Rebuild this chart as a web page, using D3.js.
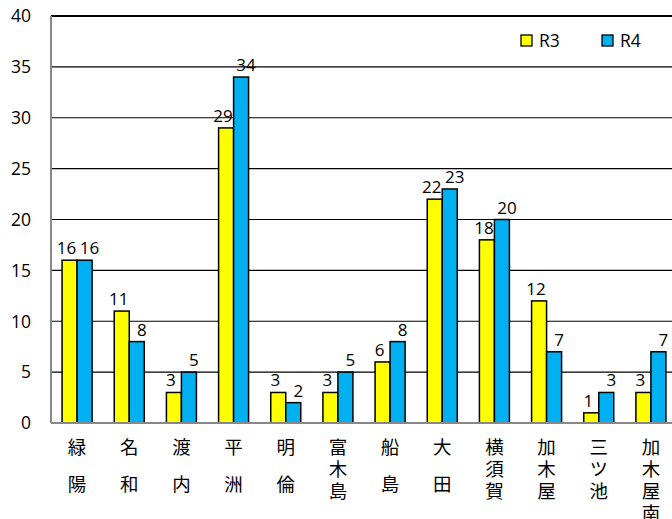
<!DOCTYPE html>
<html><head><meta charset="utf-8">
<script src="https://cdn.jsdelivr.net/npm/d3@7"></script>
<style>body{margin:0;background:#fff}svg{display:block}</style>
</head><body>
<svg id="c" width="672" height="519"></svg>
<script>
const categories = ["緑陽","名和","渡内","平洲","明倫","富木島","船島","大田","横須賀","加木屋","三ツ池","加木屋南"];
const r3 = [16,11,3,29,3,3,6,22,18,12,1,3];
const r4 = [16,8,5,34,2,5,8,23,20,7,3,7];
const seriesNames = ["R3","R4"];
const colors = ["#FFFF00","#00B0F0"];
const yTicks = [0,5,10,15,20,25,30,35,40];

(function(){
const svg = d3.select("#c");
const font = "'Open Sans','Noto Sans',sans-serif";
const pLeft = 51, pRight = 677, pTop = 16, pBottom = 423;
const x = d3.scaleBand().domain(categories).range([pLeft, pRight]);
const y = d3.scaleLinear().domain([0,40]).range([pBottom, pTop]);
const bw = 15;

svg.append("g").selectAll("line").data(yTicks.filter(d=>d>0)).join("line")
  .attr("x1", pLeft).attr("x2", 672).attr("y1", d=>y(d)).attr("y2", d=>y(d))
  .attr("stroke", "#000").attr("stroke-width", d => d===40 ? 1.8 : 1.2);

svg.append("g").selectAll("text").data(yTicks).join("text")
  .attr("x", 31).attr("y", d=>y(d)).attr("dy", "0.36em").attr("text-anchor","end")
  .attr("font-family", font).attr("font-size", 17.5).attr("fill","#000").text(d=>d);

const series = [r3, r4];
series.forEach((vals, si) => {
  const g = svg.append("g");
  g.selectAll("rect").data(categories).join("rect")
    .attr("x", c => x(c) + x.bandwidth()/2 - bw + si*bw)
    .attr("y", (c,i)=> y(vals[i]))
    .attr("width", bw).attr("height", (c,i)=> y(0)-y(vals[i]))
    .attr("fill", colors[si]).attr("stroke","#000").attr("stroke-width",1.5);
  g.selectAll("text").data(categories).join("text")
    .attr("x", c => x(c) + x.bandwidth()/2 - bw/2 + si*bw + (si===0?-3:5))
    .attr("y", (c,i)=> y(vals[i]) - 6)
    .attr("text-anchor","middle")
    .attr("font-family", font).attr("font-size", 17).attr("fill","#000")
    .text((c,i)=>vals[i]);
});

svg.append("line").attr("x1", pLeft).attr("x2", pLeft).attr("y1", pTop).attr("y2", pBottom)
  .attr("stroke","#888").attr("stroke-width",2);
svg.append("line").attr("x1", pLeft).attr("x2", 672).attr("y1", pBottom).attr("y2", pBottom)
  .attr("stroke","#888").attr("stroke-width",2);

const fs = 18.5;
svg.append("g").selectAll("text").data(categories).join("text")
  .attr("x", c => x(c) + x.bandwidth()/2).attr("y", 438)
  .attr("style", c => `writing-mode: vertical-rl; text-orientation: upright; letter-spacing: ${(Array.from(c).length===2?37:22)-fs}px`)
  .attr("font-family","'Noto Sans CJK JP',sans-serif").attr("font-size",fs).attr("fill","#000")
  .text(c => c);

const lg = svg.append("g");
const lx = [521, 602];
seriesNames.forEach((n,i)=>{
  lg.append("rect").attr("x", lx[i]).attr("y", 35).attr("width", 11).attr("height", 11)
    .attr("fill", colors[i]).attr("stroke","#000").attr("stroke-width",1.3);
  lg.append("text").attr("x", lx[i]+18).attr("y", 41).attr("dy","0.36em")
    .attr("font-family", font).attr("font-size", 17.5).attr("fill","#000").text(n);
});
})();
</script>
</body></html>
